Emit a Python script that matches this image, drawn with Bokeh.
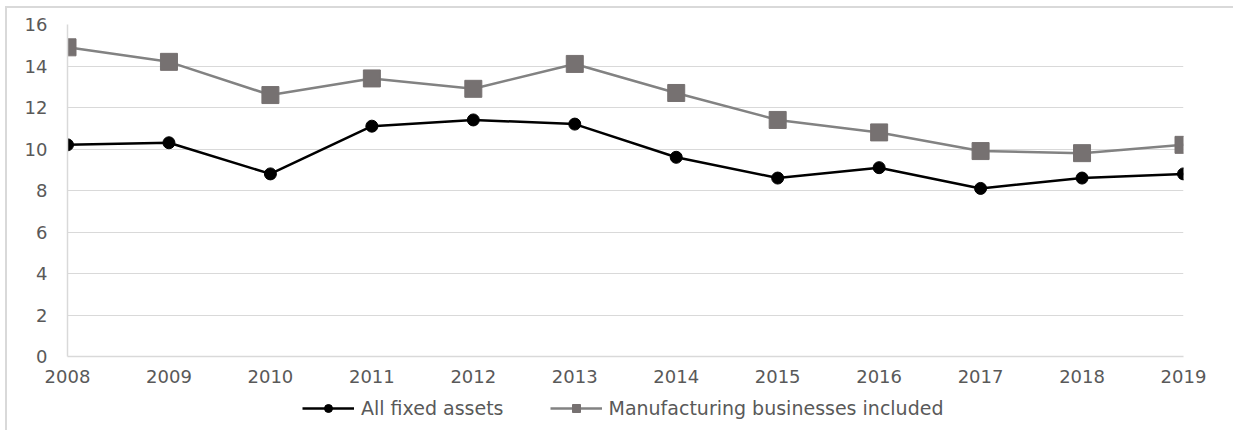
from bokeh.plotting import figure
from bokeh.layouts import column
from bokeh.models import FixedTicker, Legend, LegendItem, Range1d
from bokeh.embed import file_html
from bokeh.resources import INLINE

years = [2008, 2009, 2010, 2011, 2012, 2013, 2014, 2015, 2016, 2017, 2018, 2019]
all_fixed_assets = [10.2, 10.3, 8.8, 11.1, 11.4, 11.2, 9.6, 8.6, 9.1, 8.1, 8.6, 8.8]
manufacturing_included = [14.9, 14.2, 12.6, 13.4, 12.9, 14.1, 12.7, 11.4, 10.8, 9.9, 9.8, 10.2]
y_ticks = [0, 2, 4, 6, 8, 10, 12, 14, 16]
series_names = ["All fixed assets", "Manufacturing businesses included"]

FONT = "DejaVu Sans"
GRID = "#d9d9d9"
BLACK = "black"
GREY_LINE = "#828282"
GREY_MARK = "#767171"

p = figure(width=1226, height=385, output_backend="svg", toolbar_location=None,
           x_range=Range1d(2008, 2019), y_range=Range1d(0, 16),
           min_border_left=60, min_border_right=50, min_border_top=16, min_border_bottom=37)
p.outline_line_color = None
p.xgrid.visible = False
p.ygrid.grid_line_color = GRID
p.ygrid.grid_line_width = 1

p.xaxis.ticker = FixedTicker(ticks=years)
p.yaxis.ticker = FixedTicker(ticks=y_ticks)
for ax in (p.xaxis, p.yaxis):
    ax.axis_line_color = GRID
    ax.axis_line_width = 1.5
    ax.major_tick_line_color = None
    ax.minor_tick_line_color = None
    ax.major_label_text_font = FONT
    ax.major_label_text_font_size = "18px"
    ax.major_label_text_color = "#595959"
p.xaxis.major_label_standoff = 7
p.yaxis.major_label_standoff = 14

p.line(years, all_fixed_assets, line_color=BLACK, line_width=2.5)
p.scatter(years, all_fixed_assets, marker="circle", size=12, fill_color=BLACK, line_color=BLACK)
p.line(years, manufacturing_included, line_color=GREY_LINE, line_width=2.5)
p.scatter(years, manufacturing_included, marker="square", size=17, fill_color=GREY_MARK, line_color=GREY_MARK)

# legend strip below the chart; its key renderers sit outside the strip's visible range
lg = figure(width=1226, height=37, output_backend="svg", toolbar_location=None,
            x_range=Range1d(0, 1), y_range=Range1d(0, 1),
            min_border_left=0, min_border_right=0, min_border_top=0, min_border_bottom=0)
lg.axis.visible = False
lg.grid.visible = False
lg.outline_line_color = None
off = [5, 6]
el1 = lg.line(off, off, line_color=BLACK, line_width=2.5)
em1 = lg.scatter(off, off, marker="circle", size=11, fill_color=BLACK, line_color=BLACK)
el2 = lg.line(off, off, line_color=GREY_LINE, line_width=2.5)
em2 = lg.scatter(off, off, marker="square", size=13, fill_color=GREY_MARK, line_color=GREY_MARK)
legend = Legend(items=[LegendItem(label=series_names[0], renderers=[el1, em1]),
                       LegendItem(label=series_names[1], renderers=[el2, em2])],
                orientation="horizontal", location=(235, 11),
                label_text_font=FONT, label_text_font_size="19px", label_text_color="#595959",
                glyph_width=52, label_standoff=7, spacing=46,
                background_fill_alpha=0, border_line_color=None, padding=0, margin=0)
lg.add_layout(legend, "center")

layout = column(p, lg, spacing=0,
                styles={"border-top": "2px solid #d9d9d9", "border-left": "2px solid #d9d9d9",
                        "margin-left": "5px", "margin-top": "6px"})

open("out.html", "w").write(file_html(layout, INLINE))
